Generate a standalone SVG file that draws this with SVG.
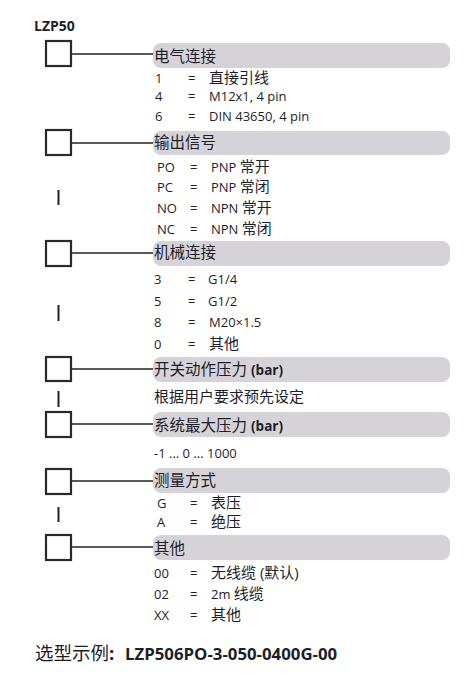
<svg xmlns="http://www.w3.org/2000/svg" width="473" height="692" viewBox="0 0 473 692">
<style>
text{font-family:"Open Sans","Noto Sans CJK SC",sans-serif;fill:#1e1e2a}
.box{fill:#fff;stroke:#2a2a2a;stroke-width:2.2}
.pill{fill:#d5d3d7}
.hd{font-size:15.5px}
.it{font-size:13px}
.cn{font-size:15px}
.b{font-weight:bold}
.conn line{stroke:#222;stroke-width:1.3}
.bar{stroke:#222;stroke-width:2}
</style>
<text x="34" y="31" class="b" font-size="14">LZP50</text>

<g class="conn">
<line x1="71" y1="54" x2="154" y2="54"/>
<line x1="71" y1="143" x2="154" y2="143"/>
<line x1="71" y1="253" x2="154" y2="253"/>
<line x1="71" y1="369" x2="154" y2="369"/>
<line x1="71" y1="424" x2="154" y2="424"/>
<line x1="71" y1="481" x2="154" y2="481"/>
<line x1="71" y1="547" x2="154" y2="547"/>
</g>

<g id="sep">
<line class="bar" x1="58.5" y1="190" x2="58.5" y2="205"/>
<line class="bar" x1="58.5" y1="305" x2="58.5" y2="321"/>
<line class="bar" x1="58.5" y1="391" x2="58.5" y2="407"/>
<line class="bar" x1="58.5" y1="507" x2="58.5" y2="522"/>
</g>

<g id="n1">
<rect class="box" x="46" y="41" width="25" height="25"/>
<rect class="pill" x="153" y="43" width="297" height="25" rx="8"/>
<text x="154" y="61.5" class="hd">电气连接</text>
<text x="155" y="82.5" class="it">1</text><text x="188" y="82.5" class="it">=</text><text x="209" y="82.5" class="cn">直接引线</text>
<text x="155" y="101" class="it">4</text><text x="188" y="101" class="it">=</text><text x="209" y="101" class="it">M12x1, 4 pin</text>
<text x="155" y="121" class="it">6</text><text x="188" y="121" class="it">=</text><text x="209" y="121" class="it">DIN 43650, 4 pin</text>
</g>

<g id="n2">
<rect class="box" x="46" y="130" width="25" height="25"/>
<rect class="pill" x="153" y="131" width="297" height="24" rx="8"/>
<text x="154" y="148" class="hd">输出信号</text>
<text x="157" y="172" class="it">PO</text><text x="190" y="172" class="it">=</text><text x="211" y="172" class="it">PNP <tspan class="cn">常开</tspan></text>
<text x="157" y="192" class="it">PC</text><text x="190" y="192" class="it">=</text><text x="211" y="192" class="it">PNP <tspan class="cn">常闭</tspan></text>
<text x="157" y="213" class="it">NO</text><text x="190" y="213" class="it">=</text><text x="211" y="213" class="it">NPN <tspan class="cn">常开</tspan></text>
<text x="157" y="233.5" class="it">NC</text><text x="190" y="233.5" class="it">=</text><text x="211" y="233.5" class="it">NPN <tspan class="cn">常闭</tspan></text>
</g>

<g id="n3">
<rect class="box" x="46" y="241" width="25" height="25"/>
<rect class="pill" x="153" y="241" width="297" height="25" rx="8"/>
<text x="154" y="258" class="hd">机械连接</text>
<text x="154" y="283.5" class="it">3</text><text x="188" y="283.5" class="it">=</text><text x="208" y="283.5" class="it">G1/4</text>
<text x="154" y="306" class="it">5</text><text x="188" y="306" class="it">=</text><text x="208" y="306" class="it">G1/2</text>
<text x="154" y="327" class="it">8</text><text x="188" y="327" class="it">=</text><text x="209" y="327" class="it">M20×1.5</text>
<text x="154" y="348.5" class="it">0</text><text x="188" y="348.5" class="it">=</text><text x="209" y="348.5" class="cn">其他</text>
</g>

<g id="n4">
<rect class="box" x="46" y="357" width="25" height="24"/>
<rect class="pill" x="153" y="357" width="297" height="25" rx="8"/>
<text x="154" y="375" class="hd">开关动作压力 <tspan class="b" font-size="13.5">(bar)</tspan></text>
<text x="154" y="402" class="cn">根据用户要求预先设定</text>
</g>

<g id="n5">
<rect class="box" x="46" y="412" width="25" height="25"/>
<rect class="pill" x="153" y="412" width="297" height="25" rx="8"/>
<text x="154" y="431" class="hd">系统最大压力 <tspan class="b" font-size="13.5">(bar)</tspan></text>
<text x="154" y="457.5" font-size="13">-1 ... 0 ... 1000</text>
</g>

<g id="n6">
<rect class="box" x="46" y="469" width="25" height="25"/>
<rect class="pill" x="153" y="468" width="297" height="25" rx="8"/>
<text x="154" y="486" class="hd">测量方式</text>
<text x="157" y="508" class="it">G</text><text x="190" y="508" class="it">=</text><text x="211" y="508" class="cn">表压</text>
<text x="157" y="527" class="it">A</text><text x="190" y="527" class="it">=</text><text x="211" y="527" class="cn">绝压</text>
</g>

<g id="n7">
<rect class="box" x="46" y="535" width="25" height="25"/>
<rect class="pill" x="153" y="535" width="297" height="25" rx="8"/>
<text x="154" y="553.5" class="hd">其他</text>
<text x="154" y="578" class="it">00</text><text x="190" y="578" class="it">=</text><text x="211" y="578" class="cn">无线缆 (默认)</text>
<text x="154" y="598.5" class="it">02</text><text x="190" y="598.5" class="it">=</text><text x="211" y="598.5" class="it">2m <tspan class="cn">线缆</tspan></text>
<text x="154" y="620" class="it">XX</text><text x="190" y="620" class="it">=</text><text x="211" y="620" class="cn">其他</text>
</g>

<text x="35" y="659.5" font-size="18.5">选型示例<tspan class="b">:</tspan></text>
<text x="125" y="659.5" class="b" font-size="16.8">LZP506PO-3-050-0400G-00</text>
</svg>
